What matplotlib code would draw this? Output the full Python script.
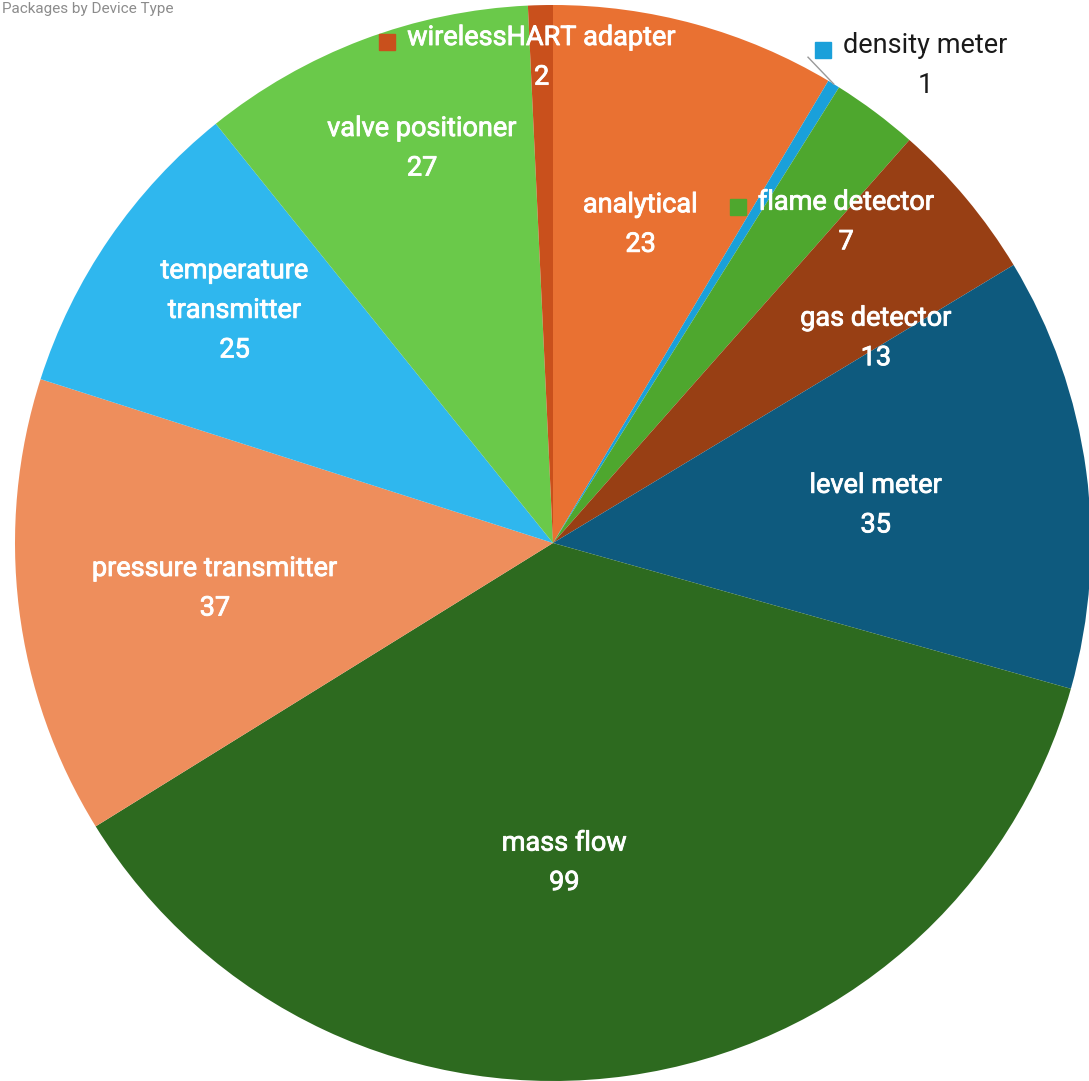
import numpy as np
import matplotlib
matplotlib.use("Agg")
from matplotlib import pyplot as plt
from matplotlib import patheffects as pe

# data, clockwise from 12 o'clock
devices = ["analytical", "density meter", "flame detector", "gas detector",
           "level meter", "mass flow", "pressure transmitter",
           "temperature\ntransmitter", "valve positioner", "wirelessHART adapter"]
counts = [23, 1, 7, 13, 35, 99, 37, 25, 27, 2]

colors = ["#E97132", "#1AA0DA", "#4EA72E", "#983F14", "#0E5A7E",
          "#2D6A1F", "#EE8E5C", "#2FB7EE", "#6AC94A", "#C9501C"]
# label placement: (angle nudge in deg, radius), white text unless outside
label_place = [(0, 0.614), (6.5, 1.125), (5.6, 0.808), (7.4, 0.711), (1, 0.604),
               (6, 0.595), (-0.6, 0.634), (1.7, 0.733), (2.4, 0.773), (0, 0.903)]
with_key = [False, True, True, False, False, False, False, False, False, True]

plt.rcParams['font.family'] = ['Roboto', 'DejaVu Sans']

W, H = 1089, 1081
cx, cy, R = 553, 543, 538
fig = plt.figure(figsize=(W/100, H/100), dpi=100)
ax = fig.add_axes([0, 0, 1, 1])

wedges, _ = ax.pie(counts, colors=colors, startangle=90, counterclock=False,
                   radius=1.0, wedgeprops=dict(linewidth=0))
ax.set_aspect('auto')
ax.set_xlim(-cx/R, (W-cx)/R)
ax.set_ylim(-(H-cy)/R, cy/R)
ax.axis('off')

total = float(sum(counts))
cum = np.cumsum([0] + counts)
texts = []
for i, name in enumerate(devices):
    mid = (cum[i] + counts[i]/2.0) / total * 360.0
    dth, r = label_place[i]
    a = np.radians(mid + dth)
    x, y = r*np.sin(a), r*np.cos(a)
    outside = r > 1
    col = "#1a1a1a" if outside else "white"
    t = ax.text(x, y, name + "\n" + str(counts[i]), ha='center', va='center',
                color=col, fontsize=19.5, linespacing=1.6, multialignment='center')
    if not outside:
        # a touch heavier, like the source labels
        t.set_path_effects([pe.withStroke(linewidth=0.6, foreground=col)])
    texts.append(t)

    if outside:
        # leader line from the slice edge
        am = np.radians((cum[i] + counts[i]/2.0) / total * 360.0)
        ax.plot([np.sin(am), 0.474], [np.cos(am), 0.903], color="#999999", lw=1)

fig.canvas.draw()
rend = fig.canvas.get_renderer()
inv = ax.transData.inverted()
for i, t in enumerate(texts):
    if not with_key[i]:
        continue
    bb = t.get_window_extent(rend)
    # key square next to the first line
    xk = bb.x0 - 20
    yk = bb.y1 - bb.height*0.27
    xd, yd = inv.transform((xk, yk))
    ax.plot([xd], [yd], marker='s', markersize=11, color=colors[i], linestyle='none')

fig.text(0.002, 0.998, "Packages by Device Type", fontsize=11, color="#8c8c8c",
         ha='left', va='top')

fig.savefig("out.png", dpi=100)
